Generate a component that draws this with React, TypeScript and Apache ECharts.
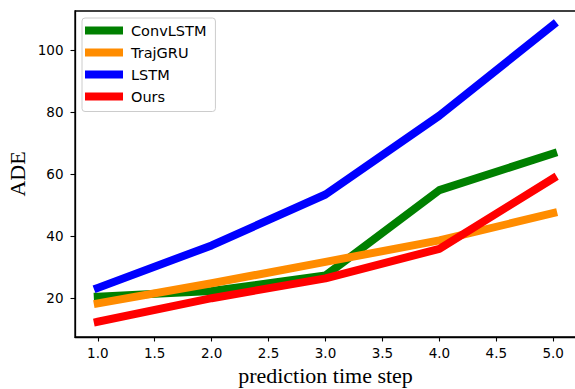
import React, { useEffect, useRef } from "react";
import * as echarts from "echarts";

const steps = [1, 2, 3, 4, 5];
const convLSTM = [20.5, 22.3, 27.3, 54.8, 66.6];
const trajGRU = [18.3, 24.8, 31.7, 38.6, 47.4];
const lstm = [23.3, 37.0, 53.4, 78.8, 108.0];
const ours = [12.4, 20.0, 26.4, 35.9, 58.6];
const xTicks = [1, 1.5, 2, 2.5, 3, 3.5, 4, 4.5, 5];
const yTicks = [20, 40, 60, 80, 100];

const seriesDefs = [
  { name: "ConvLSTM", data: convLSTM, color: "#008000" },
  { name: "TrajGRU", data: trajGRU, color: "#ff8c00" },
  { name: "LSTM", data: lstm, color: "#0000ff" },
  { name: "Ours", data: ours, color: "#ff0000" },
];

export default function App() {
  const ref = useRef<HTMLDivElement>(null);
  useEffect(() => {
    const chart = echarts.init(ref.current!, null, { renderer: "svg" });
    const sans = "DejaVu Sans";
    chart.setOption({
      animation: false,
      backgroundColor: "#ffffff",
      grid: {
        left: 75,
        top: 11,
        width: 501,
        height: 326,
        show: true,
        borderColor: "#000",
        borderWidth: 1.3,
        containLabel: false,
        outerBoundsMode: "none",
      },
      legend: {
        orient: "vertical",
        left: 82,
        top: 18,
        icon: "rect",
        itemWidth: 38,
        itemHeight: 8,
        itemGap: 6,
        padding: [4.5, 9, 7, 3],
        backgroundColor: "#fff",
        borderColor: "#cccccc",
        borderWidth: 1,
        borderRadius: 3,
        textStyle: {
          fontFamily: sans,
          fontSize: 14.5,
          lineHeight: 16,
          color: "#000",
          padding: [0, 0, 0, 3],
        },
        data: seriesDefs.map((s) => s.name),
      },
      xAxis: {
        type: "value",
        min: 0.8,
        max: 5.2,
        name: "prediction time step",
        nameLocation: "middle",
        nameGap: 28,
        nameMoveOverlap: false,
        nameTextStyle: { fontFamily: "Liberation Serif", fontSize: 22, lineHeight: 20, color: "#000" },
        splitLine: { show: false },
        axisLine: { show: true, onZero: false, lineStyle: { color: "#000", width: 1.3 } },
        axisTick: { show: true, customValues: xTicks, length: 4.5, lineStyle: { color: "#000", width: 1.1 } },
        axisLabel: {
          customValues: xTicks,
          formatter: (v: number) => v.toFixed(1),
          fontFamily: sans,
          fontSize: 13.5,
          lineHeight: 13.5,
          color: "#000",
          margin: 9,
        },
      },
      yAxis: {
        type: "value",
        min: 7.5,
        max: 112.5,
        name: "ADE",
        nameLocation: "middle",
        nameGap: 47,
        nameRotate: 90,
        nameMoveOverlap: false,
        nameTextStyle: { fontFamily: "Liberation Serif", fontSize: 22, color: "#000" },
        splitLine: { show: false },
        axisLine: { show: true, onZero: false, lineStyle: { color: "#000", width: 1.3 } },
        axisTick: { show: true, customValues: yTicks, length: 4.5, lineStyle: { color: "#000", width: 1.1 } },
        axisLabel: {
          customValues: yTicks,
          fontFamily: sans,
          fontSize: 13.5,
          color: "#000",
          margin: 11.5,
        },
      },
      series: seriesDefs.map((s) => ({
        name: s.name,
        type: "line",
        data: steps.map((x, i) => [x, s.data[i]]),
        showSymbol: false,
        symbol: "none",
        color: s.color,
        lineStyle: { color: s.color, width: 8, cap: "square", join: "round" },
      })),
    });
    return () => chart.dispose();
  }, []);
  return <div ref={ref} style={{ width: 575, height: 389, position: "absolute", left: 0, top: 0 }} />;
}
